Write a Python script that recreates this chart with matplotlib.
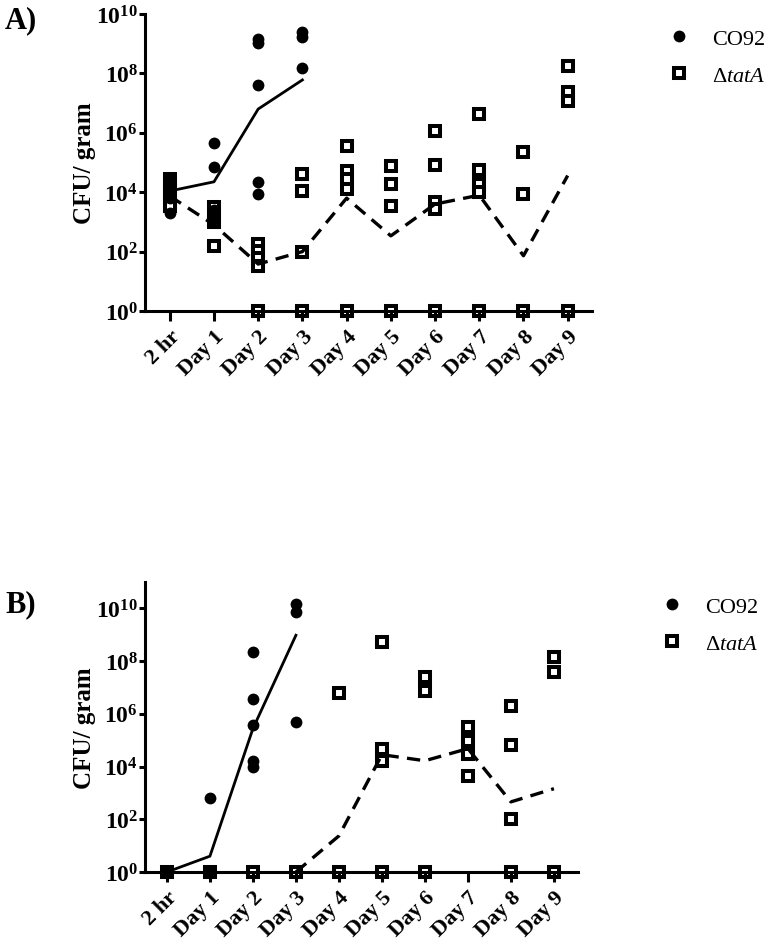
import numpy as np
import matplotlib
matplotlib.use("Agg")
import matplotlib.pyplot as plt
from matplotlib.ticker import FixedLocator, NullLocator
from matplotlib.lines import Line2D

plt.rcParams['font.family'] = ['Liberation Serif', 'DejaVu Serif']
plt.rcParams['mathtext.fontset'] = 'custom'
plt.rcParams['mathtext.rm'] = 'Liberation Serif'
plt.rcParams['mathtext.it'] = 'Liberation Serif:italic'
plt.rcParams['mathtext.bf'] = 'Liberation Serif:bold'

categories = ["2 hr", "Day 1", "Day 2", "Day 3", "Day 4", "Day 5", "Day 6", "Day 7", "Day 8", "Day 9"]

# ---------- Panel A (log10 CFU/gram) ----------
A_co92_points = {
    "2 hr": [3.3, 3.8, 4.0, 4.3, 4.45],
    "Day 1": [5.65, 4.85, 3.4, 3.1],
    "Day 2": [9.16, 9.02, 7.6, 4.34, 3.94],
    "Day 3": [9.39, 9.22, 8.18],
}
A_co92_line = [4.04, 4.35, 6.8, 7.78]

A_tat_points = {
    "2 hr": [4.45, 4.2, 4.0, 3.75, 3.55],
    "Day 1": [3.5, 3.27, 3.0, 2.2],
    "Day 2": [2.26, 2.03, 1.8, 1.52, 0],
    "Day 3": [4.61, 4.04, 1.99, 0],
    "Day 4": [5.56, 4.72, 4.44, 4.1, 0],
    "Day 5": [4.89, 4.28, 3.54, 0],
    "Day 6": [6.06, 4.92, 3.67, 3.43, 0],
    "Day 7": [6.63, 4.75, 4.28, 4.0, 0],
    "Day 8": [5.35, 3.94, 0],
    "Day 9": [8.25, 7.37, 7.07, 0],
}
A_tat_line = [3.87, 2.9, 1.58, 2.0, 3.8, 2.53, 3.6, 3.9, 1.86, 4.56]

# ---------- Panel B (log10 CFU/gram) ----------
B_co92_points = {
    "2 hr": [0],
    "Day 1": [2.81, 0],
    "Day 2": [8.33, 6.58, 5.56, 4.22, 3.99],
    "Day 3": [10.15, 9.88, 5.7],
}
B_co92_line = [0, 0.6, 5.44, 8.98]

B_tat_points = {
    "2 hr": [0],
    "Day 1": [0],
    "Day 2": [0],
    "Day 3": [0],
    "Day 4": [6.8, 0],
    "Day 5": [8.74, 4.68, 4.2, 0],
    "Day 6": [7.4, 6.88, 0],
    "Day 7": [5.5, 4.98, 4.48, 3.66],
    "Day 8": [6.3, 4.8, 2.0, 0],
    "Day 9": [8.17, 7.6, 0],
}
B_tat_line_days = ["Day 3", "Day 4", "Day 5", "Day 6", "Day 7", "Day 8", "Day 9"]
B_tat_line = [0, 1.37, 4.45, 4.22, 4.68, 2.66, 3.16]

W, H = 777, 945
fig = plt.figure(figsize=(W / 100, H / 100), dpi=100)

def fx(px):
    return px / W

def fy(py):
    return 1 - py / H

axA = fig.add_axes([fx(145), fy(312), fx(592) - fx(145), fy(15) - fy(312)])
axB = fig.add_axes([fx(145), fy(873), fx(578) - fx(145), fy(583) - fy(873)])

circ_kw = dict(marker='o', ls='none', color='black', ms=8.5, mew=0, clip_on=False, zorder=4)
sq_kw = dict(marker='s', ls='none', mfc='white', mec='black', ms=7.9, mew=2.9, clip_on=False, zorder=3)

def draw(ax, co_pts, co_line, tat_pts, tat_line_x, tat_line, xmin, xmax, ymax):
    idx = {c: i for i, c in enumerate(categories)}
    for c, vals in tat_pts.items():
        ax.plot([idx[c]] * len(vals), [10.0 ** v for v in vals], **sq_kw)
    for c, vals in co_pts.items():
        ax.plot([idx[c]] * len(vals), [10.0 ** v for v in vals], **circ_kw)
    ax.plot(range(len(co_line)), [10.0 ** v for v in co_line], color='black', lw=2.0, zorder=5, clip_on=False)
    ax.plot(tat_line_x, [10.0 ** v for v in tat_line], color='black', lw=2.4,
            ls=(0, (4, 2.5)), zorder=5, clip_on=False)
    ax.set_yscale('log')
    ax.set_ylim(1, 10.0 ** ymax)
    ax.set_xlim(xmin, xmax)
    for s in ['top', 'right']:
        ax.spines[s].set_visible(False)
    for s in ['left', 'bottom']:
        ax.spines[s].set_linewidth(2.2)
        ax.spines[s].set_zorder(6)
    ax.xaxis.set_zorder(6)
    ax.yaxis.set_major_locator(FixedLocator([10.0 ** e for e in range(0, 11, 2)]))
    ax.yaxis.set_minor_locator(NullLocator())
    ax.set_yticklabels([r'$\mathbf{10^{%d}}$' % e for e in range(0, 11, 2)], fontsize=17)
    ax.set_xticks(range(len(categories)))
    ax.set_xticklabels(categories, rotation=45, ha='right', rotation_mode='anchor',
                       fontsize=16, fontweight='bold')
    ax.tick_params(axis='x', length=7, width=2.2, pad=4)
    ax.tick_params(axis='y', length=4, width=2.2, pad=1)
    ax.set_ylabel('CFU/ gram', fontsize=18, fontweight='bold', labelpad=0)
    ax.patch.set_visible(False)

draw(axA, A_co92_points, A_co92_line, A_tat_points, list(range(10)), A_tat_line, -0.56, 9.55, 10)
draw(axB, B_co92_points, B_co92_line, B_tat_points,
     [categories.index(d) for d in B_tat_line_days], B_tat_line, -0.51, 9.56, 11)

fig.text(fx(5), fy(6), 'A)', fontsize=22, fontweight='bold', va='top', ha='left')
fig.text(fx(5), fy(590), 'B)', fontsize=22, fontweight='bold', va='top', ha='left')

handles = [Line2D([], [], **{k: v for k, v in circ_kw.items() if k not in ('clip_on', 'zorder')}),
           Line2D([], [], **{k: v for k, v in sq_kw.items() if k not in ('clip_on', 'zorder')})]
labels = ['CO92', r'$\Delta\mathit{tatA}$']
for ypx, xpx in [(29, 668), (597, 661)]:
    fig.legend(handles, labels, loc='upper left', bbox_to_anchor=(fx(xpx), fy(ypx)),
               frameon=False, fontsize=16, handlelength=1.0, handletextpad=1.0,
               labelspacing=0.75, borderpad=0, borderaxespad=0)

fig.savefig('out.png', dpi=100)
